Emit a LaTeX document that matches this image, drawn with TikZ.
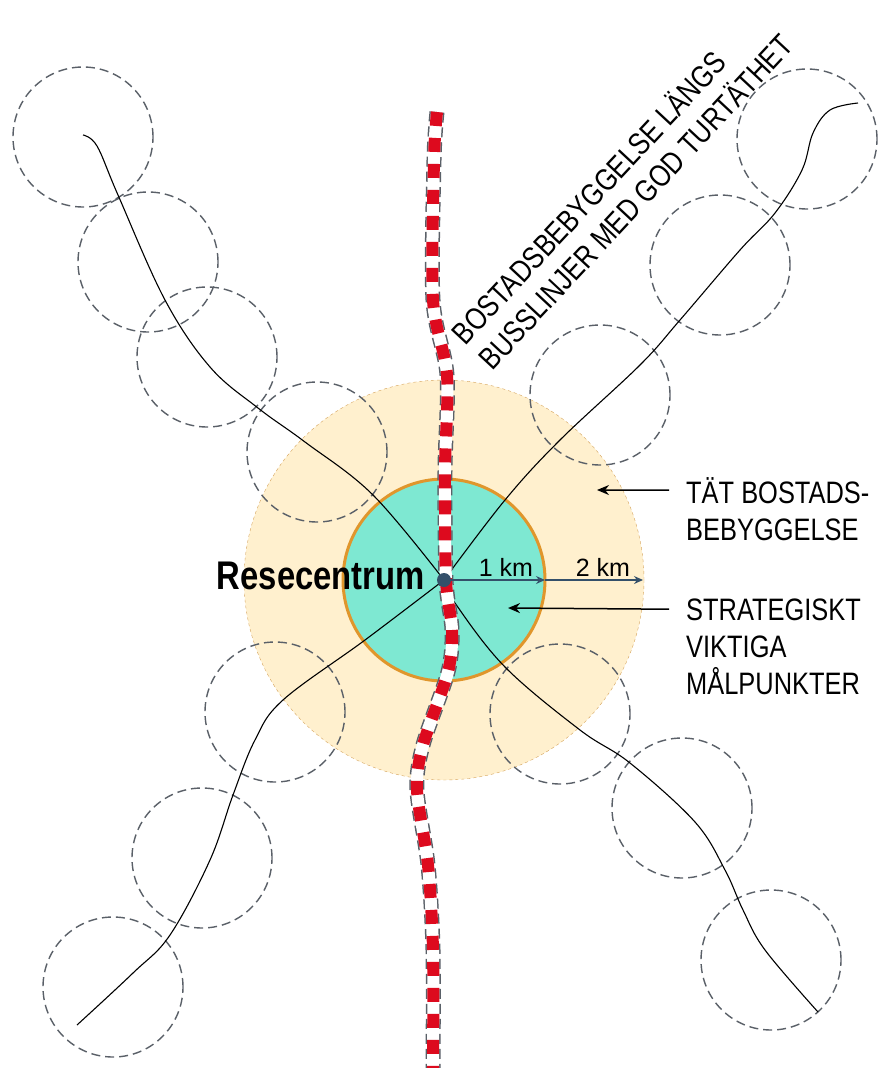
\documentclass[tikz,border=0pt]{standalone}
\usepackage{fontspec}
\newfontfamily\narrowsans[FakeStretch=0.82]{Liberation Sans}
\newfontfamily\plainsans{Liberation Sans}
\usetikzlibrary{arrows.meta}

\definecolor{zonefill}{HTML}{FFF0CE}
\definecolor{zoneline}{HTML}{D4A25A}
\definecolor{corefill}{HTML}{7EE8D2}
\definecolor{coreline}{HTML}{E0962C}
\definecolor{hubdot}{HTML}{34506A}
\definecolor{busred}{HTML}{DD0A1E}
\definecolor{ringgray}{HTML}{5A6068}

\begin{document}
\begin{tikzpicture}[x=1pt, y=-1pt,
    ring/.style={draw=ringgray, line width=1.4pt, dash pattern=on 9pt off 5pt},
    corridor/.style={draw=black, line width=1.1pt},
    busedge/.style={draw=ringgray, line width=15pt, dash pattern=on 10pt off 5pt},
    busbase/.style={draw=white, line width=12pt},
    busdash/.style={draw=busred, line width=12pt, dash pattern=on 14pt off 12pt},
    kmarrow/.style={draw=hubdot, line width=1.3pt, -{Stealth[length=9pt,width=8pt]}},
    lblarrow/.style={draw=black, line width=1.5pt, -{Stealth[length=12pt,width=10pt]}},
    lbl/.style={font=\narrowsans\fontsize{31}{37}\selectfont, inner sep=0pt, anchor=base west},
    kmlbl/.style={font=\plainsans\fontsize{25}{30}\selectfont, inner sep=0pt, anchor=base}]

    % --- ram och parametrar ---
    \useasboundingbox (0,0) rectangle (879,1068);
    \def\Rin{101}    % 1 km
    \def\Rout{200}   % 2 km
    \def\Rring{70}   % bostadsomraden
    \coordinate (ctr) at (444,580);

    % --- zoner runt resecentrum ---
    \draw[draw=zoneline, dashed, thin, fill=zonefill] (ctr) circle[radius=\Rout pt];
    \draw[draw=coreline, line width=3pt, fill=corefill] (ctr) circle[radius=\Rin pt];

    % --- streckade ringar langs straken ---
    \foreach \cx/\cy in {83/137, 148/262, 207/357, 317/452,
                         807/139, 720/265, 600/395,
                         275/712, 202/858, 113/987,
                         560/714, 682/808, 771/960}
        \draw[ring] (\cx,\cy) circle[radius=\Rring pt];

    % --- strak (tunna linjer) ---
    \draw[corridor] plot[smooth, tension=.6] coordinates {(83,135) (97,146) (118,195) (165,300) (210,367) (258,408) (305,442) (373,495) (444,580)};
    \draw[corridor] plot[smooth, tension=.6] coordinates {(858,103) (830,110) (813,133) (802,170) (775,213) (740,250) (680,320) (640,365) (560,440) (505,500) (444,580)};
    \draw[corridor] plot[smooth, tension=.6] coordinates {(444,580) (365,640) (283,700) (255,740) (233,795) (210,860) (170,935) (133,973) (77,1025)};
    \draw[corridor] plot[smooth, tension=.6] coordinates {(444,580) (455,603) (505,667) (580,730) (630,763) (695,822) (725,870) (743,910) (765,950) (818,1012)};

    % --- busslinje (rod/vit) ---
    \foreach \sty in {busedge, busbase, busdash}
        \draw[\sty] plot[smooth, tension=.5] coordinates {(437,112) (434,160) (433,300) (447,375) (445,470) (446,580) (452,630) (448,672) (423,745) (417,790) (428,865) (433,950) (433,1068)};

    % --- resecentrum och avstand ---
    \fill[hubdot] (ctr) circle[radius=7pt];
    \coordinate (km1) at (545,580);
    \coordinate (km2) at (643,580);
    \draw[kmarrow] (ctr) -- (km1);
    \draw[kmarrow] (km1) -- (km2);
    \node[kmlbl] (km1lbl) at (506,576) {1 km};
    \node[kmlbl] (km2lbl) at (603,576) {2 km};
    \node[font=\narrowsans\bfseries\fontsize{40}{48}\selectfont, inner sep=0pt, anchor=base east] (hub) at (425,589) {Resecentrum};

    % --- etiketter till hoger ---
    \node[lbl] (tatA) at (686,503) {TÄT BOSTADS-};
    \node[lbl] (tatB) at (686,540) {BEBYGGELSE};
    \node[lbl] (strA) at (686,620) {STRATEGISKT};
    \node[lbl] (strB) at (686,657) {VIKTIGA};
    \node[lbl] (strC) at (686,694) {MÅLPUNKTER};
    \coordinate (tatpt) at (597,490);
    \coordinate (strpt) at (508,608);
    \draw[lblarrow, shorten <=17pt] (tatA.west) -- (tatpt);
    \draw[lblarrow, shorten <=17pt] (tatA.west |- strA.west) -- (strpt);

    % --- snedstalld text langs busslinjen ---
    \node[lbl, align=left, anchor=south west, rotate=47] (bustxt) at (493,372)
        {BOSTADSBEBYGGELSE LÄNGS\\BUSSLINJER MED GOD TURTÄTHET};

\end{tikzpicture}
\end{document}
